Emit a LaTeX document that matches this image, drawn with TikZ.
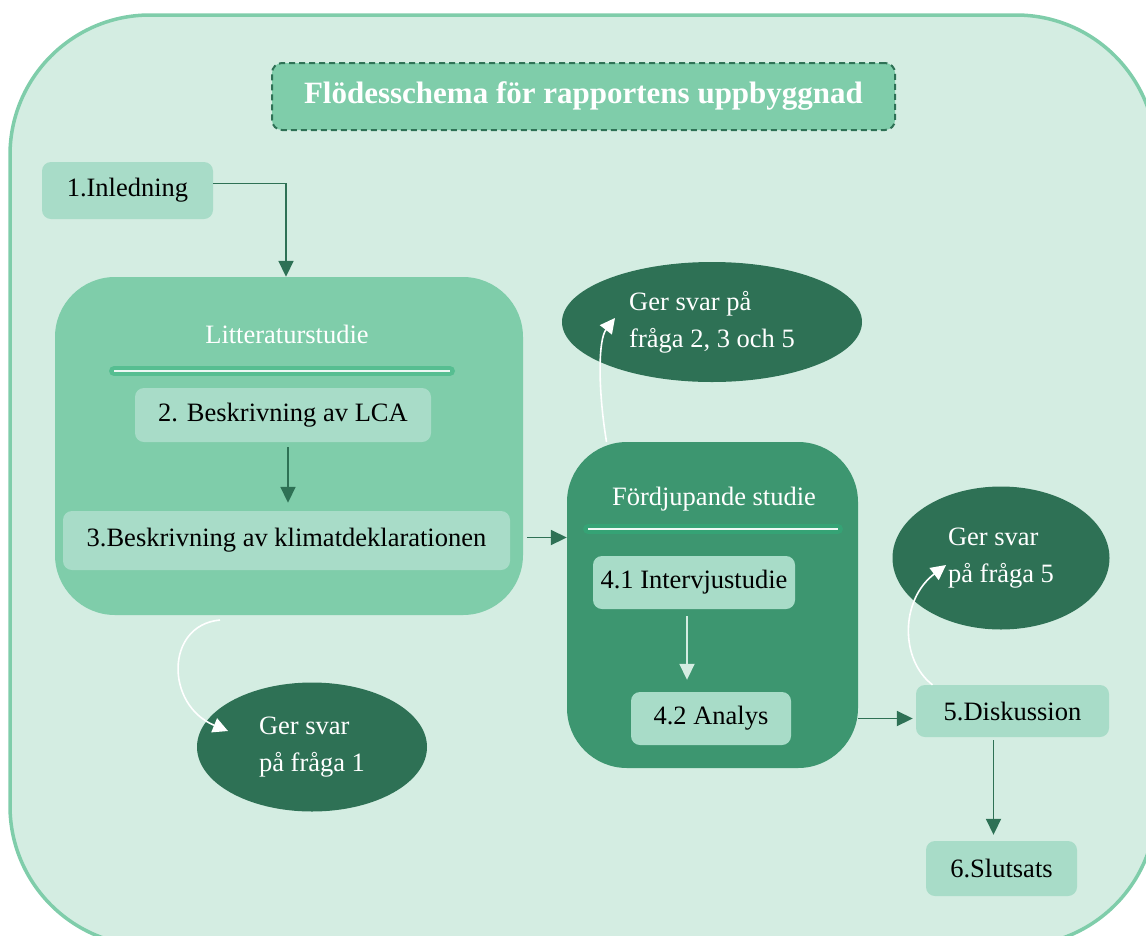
\documentclass[tikz,border=0pt]{standalone}
\usepackage{fontspec}
\setmainfont{Liberation Serif}
\usetikzlibrary{positioning,shapes.geometric,arrows.meta}

\definecolor{bgmint}{HTML}{D4EDE2}
\definecolor{rimmint}{HTML}{7FCDAA}
\definecolor{boxmint}{HTML}{A8DCC8}
\definecolor{midgreen}{HTML}{3D9670}
\definecolor{darkgreen}{HTML}{2E7155}
\definecolor{glowgreen}{HTML}{2FB07A}

\tikzset{
  stepbox/.style={fill=boxmint, rounded corners=9pt, text=black, inner sep=0pt,
    font=\fontsize{26.5}{31}\selectfont},
  groupbox/.style={rounded corners=60pt, inner sep=0pt},
  heading/.style={text=white, font=\fontsize{26.5}{31}\selectfont},
  answer/.style={ellipse, fill=darkgreen, text=white, align=left, inner sep=0pt,
    font=\fontsize{26.5}{37}\selectfont},
  flow/.style={draw=darkgreen, line width=1.8pt, -{Triangle[length=16pt,width=15pt]}},
  flowlight/.style={draw=bgmint, line width=1.8pt, -{Triangle[length=16pt,width=15pt]}},
  answerarrow/.style={draw=white, line width=1.6pt, -{Triangle[length=15pt,width=15pt]}}
}

\begin{document}
\begin{tikzpicture}[x=1pt,y=-1pt]
  \useasboundingbox (0,0) rectangle (1146,935);
  \clip (0,0) rectangle (1146,935);
  % Background panel
  \draw[fill=bgmint, draw=rimmint, line width=3.5pt, rounded corners=140pt] (10,15) rectangle (1156,946);

  % Title
  \node[draw=darkgreen, dash pattern=on 6pt off 4pt, line width=2pt, fill=rimmint, rounded corners=10pt,
    minimum width=623pt, minimum height=67pt, text=white, font=\fontsize{31}{36}\selectfont\bfseries]
    (title) at (583.5,96.5) {Flödesschema för rapportens uppbyggnad};

  % Groups
  \node[groupbox, fill=rimmint, minimum width=468pt, minimum height=338pt] (litt) at (289,446) {};
  \node[groupbox, fill=midgreen, minimum width=291pt, minimum height=326pt] (fordj) at (712.5,605) {};
  \node[heading] (litthead) at (287,334) {Litteraturstudie};
  \node[heading] (fordjhead) at (714,499) {Fördjupande studie};
  % Glowing separators
  \foreach \a/\b/\y in {114/450/371, 588/838/529} {
    \draw[glowgreen, opacity=0.5, line width=10pt, line cap=round] (\a,\y) -- (\b,\y);
    \draw[white!80!boxmint, line width=2pt] (\a,\y) -- (\b,\y);
  }

  % Steps
  \node[stepbox, minimum width=171pt, minimum height=57pt] (inledning) at (127.5,190.5) {1.Inledning};
  \node[stepbox, minimum width=296pt, minimum height=54pt] (lca) at (283,415) {2. Beskrivning av LCA};
  \node[stepbox, minimum width=447pt, minimum height=59pt] (klimat) at (286.5,540.5) {3.Beskrivning av klimatdeklarationen};
  \node[stepbox, minimum width=202pt, minimum height=53pt] (intervju) at (694,582.5) {4.1 Intervjustudie};
  \node[stepbox, minimum width=160pt, minimum height=53pt] (analys) at (711,718.5) {4.2 Analys};
  \node[stepbox, minimum width=193pt, minimum height=52pt] (diskussion) at (1012.5,711) {5.Diskussion};
  \node[stepbox, minimum width=151pt, minimum height=55pt] (slutsats) at (1001.5,868.5) {6.Slutsats};

  % Answers
  \node[answer, minimum width=300pt, minimum height=120pt] (svar235) at (712,322) {Ger svar på\\fråga 2, 3 och 5};
  \node[answer, minimum width=217pt, minimum height=143pt] (svar5) at (1001,558) {Ger svar\\på fråga 5};
  \node[answer, minimum width=230pt, minimum height=129pt] (svar1) at (312,747) {Ger svar\\på fråga 1};

  % Connectors
  \draw[flow] ([yshift=7pt]inledning.east) -| ([xshift=-3pt]litt.north);
  \draw[flow, shorten <=5pt, shorten >=8pt] ([xshift=5pt]lca.south) -- ([xshift=5pt]lca.south |- klimat.north);
  \draw[flow, shorten <=4pt] ([yshift=3pt]litt.east |- klimat.east) -- ([yshift=3pt]fordj.west |- klimat.east);
  \draw[flowlight, shorten <=7pt, shorten >=12pt] ([xshift=-7pt]intervju.south) -- ([xshift=-7pt]intervju.south |- analys.north);
  \draw[flow, shorten >=3pt] (fordj.east |- analys.east) -- (diskussion.west |- analys.east);
  \draw[flow, shorten <=3pt, shorten >=6pt] ([xshift=-8pt]slutsats.north |- diskussion.south) -- ([xshift=-8pt]slutsats.north);

  % Curved answer arrows
  \coordinate (fromlitt) at (220,620);
  \coordinate (fromfordj) at ([xshift=-106pt]fordj.north);
  \coordinate (fromdisk) at ([xshift=-80pt]diskussion.north);
  \coordinate (tip1) at (228,731);
  \coordinate (tip235) at (615,318);
  \coordinate (tip5) at (946,565);
  \draw[answerarrow] (fromlitt) .. controls (165,625) and (165,705) .. (tip1);
  \draw[answerarrow] (fromfordj) .. controls (598,390) and (598,340) .. (tip235);
  \draw[answerarrow] (fromdisk) .. controls (900,660) and (900,600) .. (tip5);
\end{tikzpicture}
\end{document}
